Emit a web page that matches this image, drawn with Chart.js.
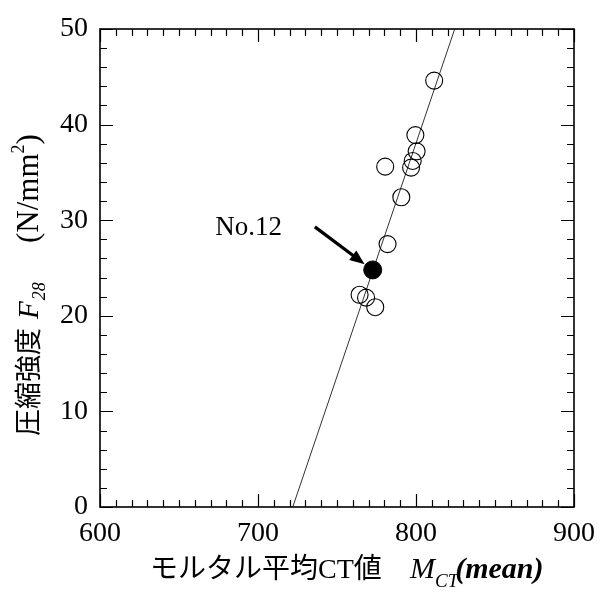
<!DOCTYPE html>
<html>
<head>
<meta charset="utf-8">
<script src="https://cdn.jsdelivr.net/npm/chart.js@4"></script>
<style>
  body { margin: 0; background: #fff; }
  canvas { display: block; }
</style>
</head>
<body>
<canvas id="myChart" width="605" height="601"></canvas>
<script>
// measured specimens: mortar mean CT value vs 28-day compressive strength
const mctOpen = [811.5, 799.6, 800.4, 797.9, 796.9, 780.5, 790.7, 782.0, 764.3, 768.4, 774.2];
const f28Open = [44.6, 38.9, 37.2, 36.2, 35.5, 35.6, 32.4, 27.5, 22.2, 21.9, 20.9];

// specimen No.12 (highlighted)
const mctNo12 = [772.6];
const f28No12 = [24.8];

// regression line end points
const fitX = [722.0, 824.5];
const fitY = [0, 50];

// annotation: label and arrow (data units)
const noteText = "No.12";
const noteAt = [673, 28.5];
const arrowFrom = [736, 29.3];
const arrowTo = [767.5, 25.4];

const xTicks = [600, 700, 800, 900];
const yTicks = [0, 10, 20, 30, 40, 50];

const serif = '"Liberation Serif", "Times New Roman", serif';
const cjk = '"Liberation Serif", "Noto Sans CJK JP", serif';

const ctx = document.getElementById("myChart").getContext("2d");

// inward ticks on all four sides plus the frame
const frameTicks = {
    id: "frameTicks",
    afterDatasetsDraw(chart) {
        const c = chart.ctx;
        const a = chart.chartArea;
        const xs = chart.scales.x;
        const ys = chart.scales.y;
        c.save();
        c.strokeStyle = "#000";
        c.lineWidth = 1.2;
        c.beginPath();
        xs.ticks.forEach(t => {
            const px = Math.round(xs.getPixelForValue(t.value)) + 0.5;
            const len = xTicks.includes(t.value) ? 13 : 7;
            c.moveTo(px, a.bottom); c.lineTo(px, a.bottom - len);
            c.moveTo(px, a.top); c.lineTo(px, a.top + len);
        });
        ys.ticks.forEach(t => {
            const py = Math.round(ys.getPixelForValue(t.value)) + 0.5;
            const len = yTicks.includes(t.value) ? 13 : 7;
            c.moveTo(a.left, py); c.lineTo(a.left + len, py);
            c.moveTo(a.right, py); c.lineTo(a.right - len, py);
        });
        c.stroke();
        c.lineWidth = 1.6;
        c.strokeRect(a.left, a.top, a.right - a.left, a.bottom - a.top);

        // No.12 label and arrow
        c.fillStyle = "#000";
        c.font = "27px " + serif;
        c.textBaseline = "alphabetic";
        c.textAlign = "left";
        c.fillText(noteText, xs.getPixelForValue(noteAt[0]), ys.getPixelForValue(noteAt[1]));

        const x0 = xs.getPixelForValue(arrowFrom[0]), y0 = ys.getPixelForValue(arrowFrom[1]);
        const x1 = xs.getPixelForValue(arrowTo[0]), y1 = ys.getPixelForValue(arrowTo[1]);
        const ang = Math.atan2(y1 - y0, x1 - x0);
        const head = 16;
        c.lineWidth = 3.2;
        c.beginPath();
        c.moveTo(x0, y0);
        c.lineTo(x1 - Math.cos(ang) * head * 0.8, y1 - Math.sin(ang) * head * 0.8);
        c.stroke();
        c.beginPath();
        c.moveTo(x1, y1);
        c.lineTo(x1 - head * Math.cos(ang - 0.38), y1 - head * Math.sin(ang - 0.38));
        c.lineTo(x1 - head * Math.cos(ang + 0.38), y1 - head * Math.sin(ang + 0.38));
        c.closePath();
        c.fill();
        c.restore();
    },
    afterDraw(chart) {
        const c = chart.ctx;
        c.save();
        c.fillStyle = "#000";
        c.textBaseline = "alphabetic";
        c.textAlign = "left";

        // draw a run of text pieces one after another
        function run(parts, x, y) {
            parts.forEach(p => {
                c.font = p.font;
                if (p.at !== undefined) x = p.at;
                x += p.gap || 0;
                c.fillText(p.text, x, y + (p.dy || 0));
                x += c.measureText(p.text).width;
            });
        }

        // x axis title
        run([
            { text: "モルタル平均CT値", font: "28px " + cjk },
            { text: "M", font: "italic 30px " + serif, at: 410 },
            { text: "CT", font: "italic 19px " + serif, dy: 9 },
            { text: "(mean)", font: "italic bold 30px " + serif, gap: -3 }
        ], 150, 578);

        // y axis title, rotated
        c.translate(38, 436);
        c.rotate(-Math.PI / 2);
        run([
            { text: "圧縮強度", font: "27px " + cjk },
            { text: "F", font: "italic 29px " + serif, gap: 9 },
            { text: "28", font: "italic 18px " + serif, dy: 7, gap: 1 },
            { text: "(N/mm", font: "31px " + serif, at: 193 },
            { text: "2", font: "18px " + serif, dy: -14 },
            { text: ")", font: "31px " + serif }
        ], 0, 0);
        c.restore();
    }
};

const myChart = new Chart(ctx, {
    type: "scatter",
    data: {
        datasets: [
            {
                label: "fit",
                type: "line",
                data: fitX.map((x, i) => ({ x: x, y: fitY[i] })),
                borderColor: "#333",
                borderWidth: 1,
                pointRadius: 0,
                fill: false,
                order: 3
            },
            {
                label: "specimens",
                data: mctOpen.map((x, i) => ({ x: x, y: f28Open[i] })),
                pointStyle: "circle",
                pointRadius: 8.5,
                borderColor: "#000",
                borderWidth: 1.1,
                backgroundColor: "rgba(0,0,0,0)",
                order: 2
            },
            {
                label: "No.12",
                data: mctNo12.map((x, i) => ({ x: x, y: f28No12[i] })),
                pointStyle: "circle",
                pointRadius: 9,
                borderColor: "#000",
                borderWidth: 1,
                backgroundColor: "#000",
                order: 1
            }
        ]
    },
    options: {
        responsive: false,
        animation: false,
        devicePixelRatio: 1,
        layout: { padding: { top: 29, right: 24, left: 0, bottom: 0 } },
        plugins: {
            legend: { display: false },
            tooltip: { enabled: false }
        },
        scales: {
            x: {
                type: "linear",
                min: 600,
                max: 900,
                grid: { display: false, drawTicks: false },
                border: { display: false },
                afterFit(s) { s.height = 94; },
                ticks: {
                    stepSize: 10,
                    autoSkip: false,
                    maxRotation: 0,
                    padding: 10,
                    color: "#000",
                    font: { family: serif, size: 28 },
                    callback: v => xTicks.includes(v) ? String(v) : ""
                }
            },
            y: {
                type: "linear",
                min: 0,
                max: 50,
                grid: { display: false, drawTicks: false },
                border: { display: false },
                afterFit(s) { s.width = 100; },
                ticks: {
                    stepSize: 2,
                    autoSkip: false,
                    padding: 12,
                    color: "#000",
                    font: { family: serif, size: 28 },
                    callback: v => yTicks.includes(v) ? String(v) : ""
                }
            }
        }
    },
    plugins: [frameTicks]
});
</script>
</body>
</html>
